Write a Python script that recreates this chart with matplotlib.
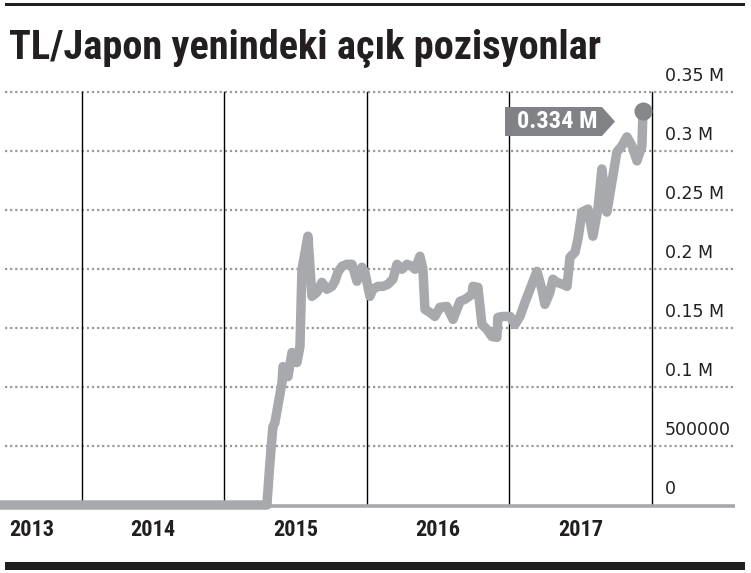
import matplotlib
matplotlib.use("Agg")
import matplotlib.pyplot as plt
from matplotlib import font_manager
from matplotlib.font_manager import FontProperties
from matplotlib.patches import Polygon

# ---- data ----
dates = [2013.42, 2015.298, 2015.319, 2015.340, 2015.354, 2015.404, 2015.411, 2015.446,
         2015.474, 2015.509, 2015.530, 2015.544, 2015.586, 2015.614, 2015.649, 2015.684,
         2015.719, 2015.754, 2015.775, 2015.796, 2015.825, 2015.860, 2015.895, 2015.930,
         2015.965, 2015.986, 2016.021, 2016.042, 2016.077, 2016.112, 2016.147, 2016.182,
         2016.211, 2016.246, 2016.281, 2016.316, 2016.337, 2016.372, 2016.393, 2016.407,
         2016.442, 2016.477, 2016.512, 2016.561, 2016.604, 2016.653, 2016.688, 2016.737,
         2016.744, 2016.779, 2016.807, 2016.842, 2016.877, 2016.912, 2016.919, 2016.954,
         2017.004, 2017.039, 2017.074, 2017.109, 2017.144, 2017.193, 2017.228, 2017.249,
         2017.284, 2017.305, 2017.333, 2017.375, 2017.404, 2017.425, 2017.460, 2017.481,
         2017.509, 2017.551, 2017.586, 2017.621, 2017.649, 2017.684, 2017.719, 2017.754,
         2017.789, 2017.825, 2017.860, 2017.895, 2017.930, 2017.937]
values_k = [0, 0, 35.7, 66.3, 69.7, 103.7, 117.3, 108.8,
            129.2, 120.7, 134.3, 199.8, 227.8, 176.8, 180.2, 188.7,
            182.8, 185.3, 189.6, 197.2, 202.3, 204.0, 204.0, 189.6,
            201.5, 197.2, 176.8, 182.8, 185.3, 185.3, 187.0, 191.3,
            204.0, 199.8, 204.0, 202.3, 199.8, 210.8, 199.8, 165.8,
            163.2, 159.8, 167.5, 168.3, 157.3, 172.6, 174.3, 178.5,
            185.3, 184.5, 153.0, 148.8, 142.8, 142.0, 159.0, 159.8,
            159.8, 153.0, 159.8, 171.7, 182.8, 198.0, 182.8, 170.0,
            180.2, 191.3, 188.7, 187.0, 185.3, 210.0, 214.2, 225.3,
            248.2, 250.8, 227.8, 250.8, 284.8, 248.2, 273.7, 299.2,
            304.3, 312.0, 304.3, 291.6, 304.3, 334.0]
values = [v / 1000.0 for v in values_k]   # in millions

title = "TL/Japon yenindeki açık pozisyonlar"
year_boundaries = [2014, 2015, 2016, 2017, 2018]
year_labels = ["2013", "2014", "2015", "2016", "2017"]
year_label_pos = [2013.65, 2014.5, 2015.5, 2016.5, 2017.5]
ytick_vals = [0.35, 0.30, 0.25, 0.20, 0.15, 0.10, 0.05, 0.0]
ytick_labels = ["0.35 M", "0.3 M", "0.25 M", "0.2 M", "0.15 M", "0.1 M", "500000", "0"]
last_label = "0.334 M"

# ---- fonts: look for condensed bold faces, else a bold sans ----
def wnum(w):
    if isinstance(w, str):
        return font_manager.weight_dict.get(w, 400)
    return w

entries = font_manager.fontManager.ttflist
cond_words = ("condensed", "narrow")

def pick(min_w, prefer_heavy):
    best, best_score = None, -1e9
    for f in entries:
        nm = f.name.lower()
        st = str(f.stretch).lower()
        is_cond = any(c in nm for c in cond_words) or any(c in st for c in cond_words) \
            or (isinstance(f.stretch, (int, float)) and f.stretch < 500)
        w = wnum(f.weight)
        if not is_cond or w < min_w or f.style != "normal":
            continue
        score = 1
        if "roboto" in nm:
            score = 5
        elif "open sans" in nm:
            score = 4
        elif "liberation" in nm:
            score = 3
        elif "dejavu" in nm:
            score = 2
        score += (w / 1000.0) if prefer_heavy else (-abs(w - 700) / 1000.0)
        if score > best_score:
            best_score, best = score, f
    return best

avail = {f.name for f in entries}
fam = "Roboto" if "Roboto" in avail else "DejaVu Sans"
b = pick(600, False)
bold_fp = FontProperties(fname=b.fname) if b else FontProperties(family=fam, weight="bold")
h = pick(600, True)
heavy_fp = FontProperties(fname=h.fname) if h else FontProperties(family=fam, weight="heavy")

plt.rcParams['font.family'] = ['DejaVu Sans']

W, H = 751, 573
fig = plt.figure(figsize=(W / 100, H / 100), dpi=100)
fig.patch.set_facecolor("white")
renderer = fig.canvas.get_renderer()

def fx(px):
    return px / W

def fy(py):
    return 1 - py / H

def fit(t, target_w):
    bb = t.get_window_extent(renderer)
    t.set_fontsize(t.get_fontsize() * target_w / bb.width)

ax = fig.add_axes([0, fy(505), fx(738), fy(92) - fy(505)])
ax.set_xlim(2013.425, 2018.604)
ax.set_ylim(0, 0.35)
ax.axis("off")

grey_line = "#a7a9ac"
xl = ax.get_xlim()

# dotted gridlines
for v in ytick_vals[:-1]:
    ax.plot([2013.46, 2018.58], [v, v], color="#9a9a9a", lw=1.6,
            linestyle=(0, (1, 1.3)), zorder=1, clip_on=False)

# vertical year lines
for yb in year_boundaries:
    ax.plot([yb, yb], [0, 0.35], color="black", lw=1.0, zorder=2, clip_on=False)

# baseline
ax.plot([xl[0], 2018.58], [-0.0005, -0.0005], color=grey_line, lw=2.6, zorder=2,
        clip_on=False, solid_capstyle="butt")

# data line
ax.plot(dates, values, color=grey_line, lw=6.8, zorder=3, clip_on=False,
        solid_joinstyle="round", solid_capstyle="butt")
ax.plot([dates[-1]], [values[-1]], "o", color="#86878a", ms=13, mec="none",
        zorder=4, clip_on=False)

# y tick labels
for v, lab in zip(ytick_vals, ytick_labels):
    ax.text(2018.09, v + 0.0138, lab, fontsize=12.5, color="#231f20",
            va="center", ha="left", clip_on=False)

# year labels
for p, lab in zip(year_label_pos, year_labels):
    t = ax.text(p, -0.0215, lab, color="#231f20",
                fontproperties=bold_fp, va="center", ha="center", clip_on=False)
    t.set_fontsize(14)
    fit(t, 45)

# last value label box with arrow
bx0, bx1, btip = fx(505), fx(602), fx(615)
by0, by1 = fy(136), fy(107)
poly = Polygon([[bx0, by0], [bx1, by0], [btip, (by0 + by1) / 2], [bx1, by1], [bx0, by1]],
               closed=True, transform=fig.transFigure, facecolor="#808285",
               edgecolor="none", zorder=5)
fig.patches.append(poly)
lt = fig.text(fx(557), (by0 + by1) / 2, last_label, color="white", ha="center",
              va="center", fontproperties=bold_fp, zorder=10)
lt.set_fontsize(15)
fit(lt, 81)

# title
tt = fig.text(fx(9), fy(48), title, color="#231f20", ha="left", va="center",
              fontproperties=heavy_fp)
tt.set_fontsize(29)
fit(tt, 592)

# top and bottom black rules
fig.patches.append(plt.Rectangle((fx(5), fy(6)), fx(740), 3 / H, transform=fig.transFigure,
                                 facecolor="#231f20", edgecolor="none"))
fig.patches.append(plt.Rectangle((fx(5), fy(570)), fx(740), 8 / H, transform=fig.transFigure,
                                 facecolor="#231f20", edgecolor="none"))

fig.savefig("out.png", dpi=100, facecolor="white")
